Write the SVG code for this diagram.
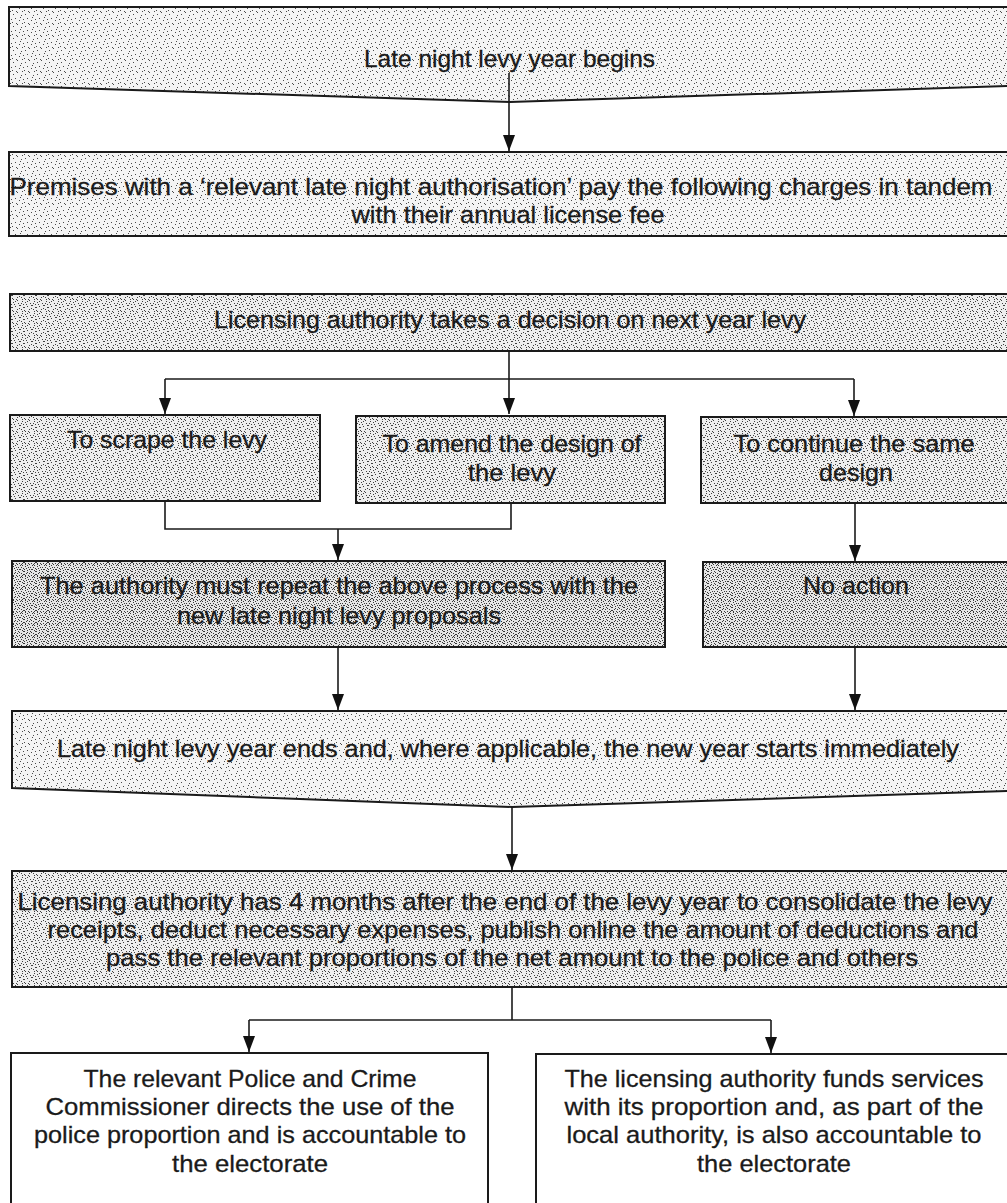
<svg xmlns="http://www.w3.org/2000/svg" width="1007" height="1203" viewBox="0 0 1007 1203">
<defs>
<pattern id="p1" width="12" height="12" patternUnits="userSpaceOnUse">
<rect width="12" height="12" fill="#f4f4f4"/>
<path fill="#4a4a4a" d="M1 2h1v1h-1zM5 0h1v1h-1zM9 3h1v1h-1zM3 6h1v1h-1zM7 8h1v1h-1zM11 7h1v1h-1zM0 10h1v1h-1zM4 11h1v1h-1zM8 5h1v1h-1zM10 11h1v1h-1z"/>
</pattern>
<pattern id="p2" width="12" height="12" patternUnits="userSpaceOnUse">
<rect width="12" height="12" fill="#eeeeee"/>
<path fill="#404040" d="M1 2h1v1h-1zM5 0h1v1h-1zM9 3h1v1h-1zM3 6h1v1h-1zM7 8h1v1h-1zM11 7h1v1h-1zM0 10h1v1h-1zM4 11h1v1h-1zM8 5h1v1h-1zM10 11h1v1h-1zM2 4h1v1h-1zM6 3h1v1h-1zM10 1h1v1h-1zM0 7h1v1h-1zM5 9h1v1h-1zM9 9h1v1h-1zM3 1h1v1h-1zM7 5h1v1h-1zM11 4h1v1h-1zM1 11h1v1h-1z"/>
</pattern>
<pattern id="p3" width="12" height="12" patternUnits="userSpaceOnUse">
<rect width="12" height="12" fill="#e6e6e6"/>
<path fill="#383838" d="M1 2h1v1h-1zM5 0h1v1h-1zM9 3h1v1h-1zM3 6h1v1h-1zM7 8h1v1h-1zM11 7h1v1h-1zM0 10h1v1h-1zM4 11h1v1h-1zM8 5h1v1h-1zM10 11h1v1h-1zM2 4h1v1h-1zM6 3h1v1h-1zM10 1h1v1h-1zM0 7h1v1h-1zM5 9h1v1h-1zM9 9h1v1h-1zM3 1h1v1h-1zM7 5h1v1h-1zM11 4h1v1h-1zM1 11h1v1h-1zM4 3h1v1h-1zM8 1h1v1h-1zM0 5h1v1h-1zM6 7h1v1h-1zM10 6h1v1h-1zM2 9h1v1h-1zM7 11h1v1h-1zM11 10h1v1h-1zM3 8h1v1h-1zM9 0h1v1h-1zM5 5h1v1h-1zM1 0h1v1h-1z"/>
</pattern>
<marker id="ah" viewBox="0 0 16 12" markerWidth="16" markerHeight="12" refX="16" refY="6" orient="auto" markerUnits="userSpaceOnUse">
<path d="M0 0L16 6L0 12Z" fill="#111"/>
</marker>
</defs>
<style>
.bx{stroke:#1a1a1a;stroke-width:2}
.l1{fill:url(#p1)}
.l2{fill:url(#p2)}
.l3{fill:url(#p3)}
.wh{fill:#ffffff}
.t{font-family:"Liberation Sans",Arial,sans-serif;font-size:24px;fill:#1a1a1a;stroke:#1a1a1a;stroke-width:0.3;text-anchor:middle}
.cn{fill:none;stroke:#1a1a1a;stroke-width:1.6}
.ar{marker-end:url(#ah)}
</style>
<rect width="1007" height="1203" fill="#ffffff"/>

<g id="n1">
<path class="bx l1" d="M9 7H1010V86L510 102L9 86Z"/>
<text class="t" x="509.5" y="67" textLength="291" lengthAdjust="spacingAndGlyphs">Late night levy year begins</text>
</g>
<g id="n2">
<rect class="bx l1" x="9" y="152" width="1001" height="84"/>
<text class="t" x="501" y="195" textLength="983" lengthAdjust="spacingAndGlyphs">Premises with a ‘relevant late night authorisation’ pay the following charges in tandem</text>
<text class="t" x="508" y="223" textLength="313" lengthAdjust="spacingAndGlyphs">with their annual license fee</text>
</g>
<g id="n3">
<rect class="bx l2" x="10" y="294" width="1000" height="57"/>
<text class="t" x="510" y="328" textLength="592" lengthAdjust="spacingAndGlyphs">Licensing authority takes a decision on next year levy</text>
</g>
<g id="n4">
<rect class="bx l2" x="10" y="415" width="310" height="86"/>
<text class="t" x="167" y="448" textLength="200" lengthAdjust="spacingAndGlyphs">To scrape the levy</text>
</g>
<g id="n5">
<rect class="bx l2" x="356" y="416" width="309" height="87"/>
<text class="t" x="512" y="452" textLength="259" lengthAdjust="spacingAndGlyphs">To amend the design of</text>
<text class="t" x="512" y="481" textLength="88" lengthAdjust="spacingAndGlyphs">the levy</text>
</g>
<g id="n6">
<rect class="bx l2" x="701" y="417" width="309" height="86"/>
<text class="t" x="854" y="452" textLength="241" lengthAdjust="spacingAndGlyphs">To continue the same</text>
<text class="t" x="856" y="481" textLength="74" lengthAdjust="spacingAndGlyphs">design</text>
</g>
<g id="n7">
<rect class="bx l3" x="12" y="561" width="653" height="86"/>
<text class="t" x="339" y="594" textLength="598" lengthAdjust="spacingAndGlyphs">The authority must repeat the above process with the</text>
<text class="t" x="339" y="624" textLength="324" lengthAdjust="spacingAndGlyphs">new late night levy proposals</text>
</g>
<g id="n8">
<rect class="bx l3" x="703" y="562" width="307" height="85"/>
<text class="t" x="856" y="594" textLength="106" lengthAdjust="spacingAndGlyphs">No action</text>
</g>
<g id="n9">
<path class="bx l1" d="M12 711H1010V791L512 807L12 788Z"/>
<text class="t" x="508" y="757" textLength="902" lengthAdjust="spacingAndGlyphs">Late night levy year ends and, where applicable, the new year starts immediately</text>
</g>
<g id="n10">
<rect class="bx l2" x="12" y="871" width="998" height="116"/>
<text class="t" x="505" y="910" textLength="975" lengthAdjust="spacingAndGlyphs">Licensing authority has 4 months after the end of the levy year to consolidate the levy</text>
<text class="t" x="513" y="938" textLength="931" lengthAdjust="spacingAndGlyphs">receipts, deduct necessary expenses, publish online the amount of deductions and</text>
<text class="t" x="512" y="966" textLength="812" lengthAdjust="spacingAndGlyphs">pass the relevant proportions of the net amount to the police and others</text>
</g>
<g id="n11">
<rect class="bx wh" x="11" y="1053" width="477" height="160"/>
<text class="t" x="250" y="1087" textLength="333" lengthAdjust="spacingAndGlyphs">The relevant Police and Crime</text>
<text class="t" x="250" y="1115" textLength="409" lengthAdjust="spacingAndGlyphs">Commissioner directs the use of the</text>
<text class="t" x="250" y="1143" textLength="432" lengthAdjust="spacingAndGlyphs">police proportion and is accountable to</text>
<text class="t" x="250" y="1172" textLength="156" lengthAdjust="spacingAndGlyphs">the electorate</text>
</g>
<g id="n12">
<rect class="bx wh" x="536" y="1054" width="474" height="160"/>
<text class="t" x="774" y="1087" textLength="419" lengthAdjust="spacingAndGlyphs">The licensing authority funds services</text>
<text class="t" x="774" y="1115" textLength="419" lengthAdjust="spacingAndGlyphs">with its proportion and, as part of the</text>
<text class="t" x="774" y="1143" textLength="415" lengthAdjust="spacingAndGlyphs">local authority, is also accountable to</text>
<text class="t" x="774" y="1172" textLength="154" lengthAdjust="spacingAndGlyphs">the electorate</text>
</g>

<g id="connectors">
<path class="cn ar" d="M509 73V151"/>
<path class="cn ar" d="M509 351V414"/>
<path class="cn" d="M165 379H854"/>
<path class="cn ar" d="M165 379V414"/>
<path class="cn ar" d="M854 379V416"/>
<path class="cn" d="M165 501V529H511V503"/>
<path class="cn ar" d="M338 529V560"/>
<path class="cn ar" d="M855 503V561"/>
<path class="cn ar" d="M338 647V710"/>
<path class="cn ar" d="M855 647V710"/>
<path class="cn ar" d="M512 807V870"/>
<path class="cn" d="M512 987V1020"/>
<path class="cn" d="M249 1020H771"/>
<path class="cn ar" d="M249 1020V1052"/>
<path class="cn ar" d="M771 1020V1053"/>
</g>
</svg>
